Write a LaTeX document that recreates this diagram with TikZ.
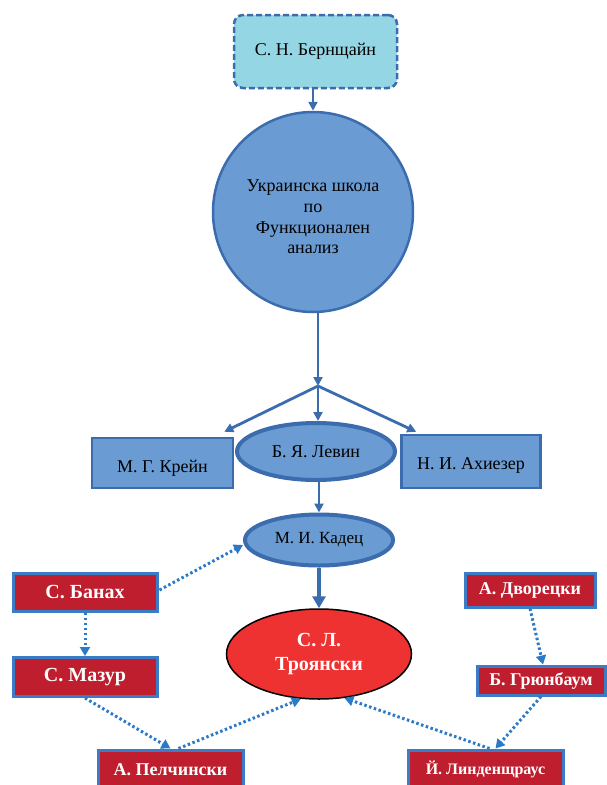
\documentclass[tikz,border=0pt]{standalone}
\usepackage{fontspec}
\setmainfont{Liberation Serif}
\usetikzlibrary{arrows.meta,shapes.geometric}
\definecolor{bfill}{HTML}{6A9BD2}
\definecolor{bdraw}{HTML}{3A6CAE}
\definecolor{cyanfill}{HTML}{94D6E4}
\definecolor{rfill}{HTML}{BE1E2D}
\definecolor{rdraw}{HTML}{3C7CC6}
\definecolor{tfill}{HTML}{EE3131}
\definecolor{dotc}{HTML}{2A7AC8}
\tikzset{
  bluebox/.style={draw=bdraw, line width=2.5pt, fill=bfill, font=\fontsize{18}{21}\selectfont, inner sep=0pt},
  blueell/.style={ellipse, draw=bdraw, line width=4pt, fill=bfill, font=\fontsize{18}{21}\selectfont, inner sep=0pt},
  redbox/.style={draw=rdraw, line width=3pt, fill=rfill, text=white, font=\fontsize{18}{21}\selectfont\bfseries, inner sep=0pt},
  barrow/.style={draw=bdraw, line width=2.8pt, -{Triangle[length=9pt,width=9pt]}},
  darrow/.style={draw=dotc, line width=3pt, dash pattern=on 2.5pt off 2.5pt, -{Triangle[length=9pt,width=10pt]}},
}
\begin{document}
\begin{tikzpicture}[x=1pt,y=-1pt]
\useasboundingbox (0,0) rectangle (607,785);
\clip (0,0) rectangle (607,785);
% top
\node[draw=bdraw, line width=2.5pt, dash pattern=on 6pt off 3pt, rounded corners=9pt, fill=cyanfill,
      minimum width=163pt, minimum height=73pt, inner sep=0pt, font=\fontsize{18}{21}\selectfont] (top) at (315.5,51.5) {С. Н. Бернщайн};
\node[circle, draw=bdraw, line width=2.5pt, fill=bfill, minimum size=200pt, inner sep=0pt] (ukr) at (313,212) {};
\node[align=center, inner sep=0pt, font=\fontsize{18}{20.7}\selectfont] (ukrtext) at (313,217) {Украинска школа\\по\\Функционален\\анализ};
\draw[barrow] (top.south -| ukr.north) -- (ukr.north);
\coordinate (br) at (318,386);
\draw[barrow] (ukr.south -| br) -- (br);
% third row
\node[bluebox, minimum width=141pt, minimum height=50pt, text height=18pt, text depth=-8pt] (krein) at (162.5,463) {М. Г. Крейн};
\node[blueell, minimum width=158pt, minimum height=57pt] (levin) at (316,451.5) {Б. Я. Левин};
\node[bluebox, minimum width=139pt, minimum height=53pt, text height=16pt, text depth=-3pt] (akh) at (471,461.5) {Н. И. Ахиезер};
\draw[barrow] (br) -- ([xshift=-10pt,yshift=5pt]krein.north east);
\draw[barrow] (br) -- (levin.north -| br);
\draw[barrow] (br) -- ([xshift=16pt,yshift=2pt]akh.north west);
% Kadec
\node[blueell, minimum width=148pt, minimum height=51pt, font=\fontsize{17}{20}\selectfont] (kadec) at (319,540) {М. И. Кадец};
\draw[barrow] (levin.south -| kadec) -- (kadec.north);
% Troyanski
\node[ellipse, draw=black, line width=1.5pt, fill=tfill, minimum width=185pt, minimum height=90pt, inner sep=0pt,
      align=center, text=white, font=\fontsize{20}{24}\selectfont\bfseries] (troy) at (319,654) {С. Л.\\Троянски};
\draw[draw=bdraw, line width=4.5pt, -{Triangle[length=12pt,width=13pt]}] (kadec.south) -- (troy.north);
% red boxes
\node[redbox, minimum width=144pt, minimum height=38pt, font=\fontsize{20}{24}\selectfont\bfseries] (banakh) at (85,592) {С. Банах};
\node[redbox, minimum width=144pt, minimum height=39pt, font=\fontsize{20}{24}\selectfont\bfseries] (mazur) at (85,677) {С. Мазур};
\node[redbox, minimum width=145pt, minimum height=40pt] (pel) at (170.5,770) {А. Пелчински};
\node[redbox, minimum width=130pt, minimum height=34pt] (dvor) at (530,590) {А. Дворецки};
\node[redbox, minimum width=128pt, minimum height=29pt] (grun) at (541,680.5) {Б. Грюнбаум};
\node[redbox, minimum width=155pt, minimum height=38pt, font=\fontsize{16}{19}\selectfont\bfseries] (lind) at (485.5,769) {Й. Линденщраус};
% dotted arrows
\draw[darrow] ([xshift=1pt,yshift=2pt]banakh.east) -- ([yshift=-5pt]kadec.west);
\draw[darrow] (banakh.south) -- (mazur.north);
\draw[darrow] (mazur.south) -- (pel.north);
\draw[darrow] ([xshift=8pt]pel.north) -- (troy.248);
\draw[darrow] (dvor.south) -- ([xshift=2pt]grun.north);
\draw[darrow] (grun.south) -- ([xshift=10pt]lind.north);
\draw[darrow] ([xshift=4pt]lind.north) -- (troy.300);
\end{tikzpicture}
\end{document}
